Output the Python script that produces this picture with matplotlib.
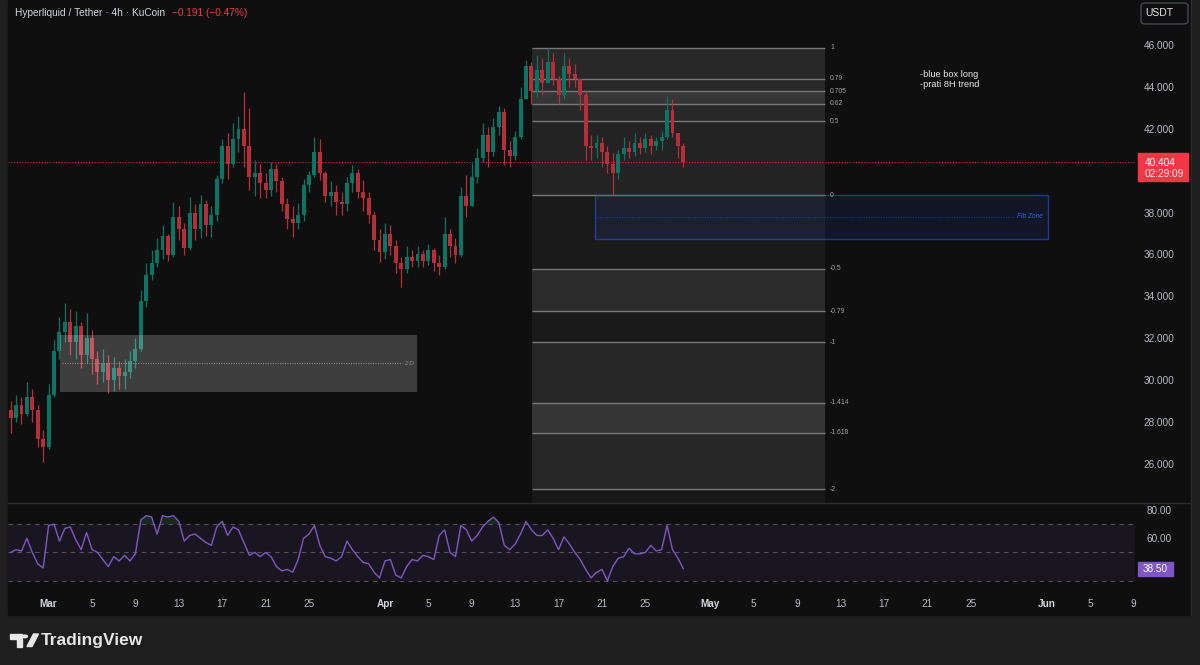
import numpy as np
import pandas as pd
import matplotlib
matplotlib.use('Agg')
import matplotlib.pyplot as plt
from matplotlib.patches import Rectangle, FancyBboxPatch, Polygon, Circle
from matplotlib.lines import Line2D

plt.rcParams['font.family'] = ['Liberation Sans', 'DejaVu Sans']

# ---------------- data ----------------
bar_start = '2025-02-25 12:00'
bar_end = '2025-04-28 12:00'
bar_freq = '12h'
first_open = 28.6
close = [28.2, 28.8, 28.4, 29.2, 28.6, 27.2, 26.8, 29.3, 31.4, 32.3,
         32.8, 31.8, 32.6, 31.2, 32.0, 31.0, 30.4, 30.8, 30.0, 30.6,
         30.2, 30.4, 30.9, 31.5, 33.8, 35.0, 35.6, 36.2, 36.9, 36.0,
         37.8, 37.2, 36.3, 38.0, 37.2, 38.4, 37.4, 37.9, 39.6, 41.2,
         40.3, 41.5, 42.0, 41.2, 39.7, 39.9, 39.4, 39.1, 40.1, 39.5,
         38.4, 37.7, 37.5, 37.9, 39.3, 39.8, 40.9, 39.9, 38.8, 39.0,
         38.5, 38.4, 39.4, 39.9, 39.0, 38.7, 37.9, 36.7, 36.1, 37.0,
         36.4, 35.6, 35.3, 35.9, 35.7, 36.0, 35.7, 36.2, 35.6, 35.4,
         37.0, 36.4, 36.0, 38.8, 38.3, 39.7, 40.6, 41.7, 40.9, 42.1,
         42.8, 41.0, 40.7, 41.6, 43.4, 45.0, 43.8, 44.8, 44.2, 45.2,
         44.4, 43.6, 45.0, 44.6, 44.4, 43.6, 41.2, 41.1, 41.3, 40.9,
         40.3, 39.9, 40.8, 41.1, 40.9, 41.3, 41.1, 41.5, 41.2, 41.4,
         41.6, 42.9, 41.8, 41.2, 40.404]
high = [29.0, 29.3, 29.2, 29.9, 29.6, 28.8, 27.6, 29.8, 31.9, 33.0,
        33.7, 33.4, 33.3, 32.8, 33.2, 32.4, 31.4, 31.5, 31.2, 31.1,
        30.9, 31.0, 31.4, 32.0, 34.3, 35.6, 36.2, 36.8, 37.4, 37.0,
        38.5, 38.3, 37.5, 38.75, 38.4, 38.84, 38.6, 38.3, 39.8, 41.5,
        41.8, 42.3, 42.6, 43.76, 43.0, 40.5, 40.3, 39.9, 40.4, 40.3,
        39.7, 38.7, 38.3, 38.45, 39.6, 40.0, 41.6, 41.5, 40.0, 39.5,
        39.3, 39.0, 39.7, 40.27, 40.1, 39.55, 39.0, 38.1, 37.2, 37.5,
        37.4, 36.7, 35.9, 36.4, 36.2, 36.4, 36.2, 36.5, 36.3, 36.0,
        37.8, 37.2, 36.8, 39.2, 39.8, 40.35, 41.1, 42.3, 42.1, 42.5,
        43.1, 43.0, 41.4, 41.9, 44.0, 45.3, 45.2, 45.5, 45.4, 45.86,
        45.6, 44.5, 45.6, 45.4, 45.1, 44.4, 43.85, 41.7, 41.7, 41.6,
        41.2, 40.85, 41.0, 41.6, 41.4, 41.8, 41.6, 41.8, 41.7, 41.6,
        41.9, 43.56, 43.4, 41.8, 41.3]
low = [27.5, 28.0, 27.9, 28.3, 28.0, 26.8, 26.1, 26.7, 29.2, 31.0,
       31.8, 31.2, 31.0, 30.6, 30.8, 30.3, 29.8, 29.9, 29.4, 29.5,
       29.6, 29.6, 30.1, 30.6, 31.4, 33.5, 34.8, 35.4, 35.8, 35.7,
       35.9, 36.7, 36.0, 36.2, 36.7, 36.8, 36.9, 36.85, 37.6, 39.4,
       39.6, 40.2, 40.9, 40.2, 39.1, 38.8, 38.7, 38.7, 38.8, 39.0,
       38.1, 37.2, 36.85, 37.2, 37.6, 39.0, 39.7, 39.55, 38.5, 38.3,
       37.9, 37.9, 38.1, 39.0, 38.7, 38.1, 37.5, 36.2, 35.64, 35.8,
       36.0, 35.1, 34.45, 35.1, 35.4, 35.4, 35.4, 35.5, 35.2, 35.0,
       35.3, 35.9, 35.6, 35.9, 37.8, 38.3, 39.4, 40.4, 40.2, 40.7,
       41.7, 40.27, 40.2, 40.5, 41.5, 43.4, 43.2, 43.5, 43.6, 44.2,
       44.1, 43.2, 43.4, 44.0, 44.0, 42.9, 40.5, 40.5, 40.6, 40.2,
       39.9, 38.84, 39.6, 40.5, 40.6, 40.7, 40.8, 40.9, 40.8, 41.0,
       41.0, 41.5, 41.6, 40.6, 40.2]
rsi = [50, 52, 51, 60, 50, 42, 39, 69, 70, 58,
       67, 68, 59, 52, 64, 52, 50, 45, 40, 47,
       44, 48, 44, 49, 73, 76, 75, 63, 76, 75,
       76, 72, 58, 62, 63, 60, 57, 55, 68, 72,
       62, 68, 66, 57, 48, 50, 47, 50, 47, 40,
       37, 38, 36, 45, 60, 63, 69, 55, 47, 46,
       44, 47, 58, 52, 47, 43, 42, 36, 32, 44,
       45, 34, 32, 40, 45, 44, 48, 47, 45, 62,
       66, 50, 47, 69, 66, 58, 62, 68, 72, 75,
       71, 55, 52, 56, 63, 72, 66, 62, 62, 66,
       60, 52, 61, 56, 50, 45, 38, 32, 36, 38,
       30, 40, 46, 47, 53, 49, 49, 50, 55, 51,
       52, 69, 52, 46, 38.5]
last_price = 40.404
last_rsi = 38.50
countdown = '02:29:09'

price_ticks = [26, 28, 30, 32, 34, 36, 38, 42, 44, 46]
rsi_ticks = [60, 80]
date_ticks = ['2025-03-01', '2025-03-05', '2025-03-09', '2025-03-13', '2025-03-17',
              '2025-03-21', '2025-03-25', '2025-04-01', '2025-04-05', '2025-04-09',
              '2025-04-13', '2025-04-17', '2025-04-21', '2025-04-25', '2025-05-01',
              '2025-05-05', '2025-05-09', '2025-05-13', '2025-05-17', '2025-05-21',
              '2025-05-25', '2025-06-01', '2025-06-05', '2025-06-09']
date_labels = ['Mar', '5', '9', '13', '17', '21', '25', 'Apr', '5', '9', '13', '17',
               '21', '25', 'May', '5', '9', '13', '17', '21', '25', 'Jun', '5', '9']
month_labels = {'Mar', 'Apr', 'May', 'Jun'}
notes = ['-blue box long', '-prati 8H trend']

# drawings
fib_start, fib_end = '2025-04-14 13:10', '2025-05-11 13:30'
fib_price_1, fib_price_0 = 45.86, 38.84
fib_levels = [1, 0.79, 0.705, 0.62, 0.5, 0, -0.5, -0.79, -1, -1.414, -1.618, -2]
fib_band_colors = ['#282828', '#282828', '#363636', '#282828', '#232323',
                   '#1a1a1a', '#2b2b2b', '#1a1a1a', '#262626', '#363636', '#272727']
blue_start, blue_end = '2025-04-20 08:40', '2025-06-01 02:40'
blue_top, blue_bottom, blue_mid = 38.84, 36.74, 37.79
gray_start, gray_end = '2025-03-02 01:10', '2025-04-03 22:50'
gray_top, gray_bottom, gray_mid = 32.16, 29.44, 30.82

# ---------------- layout ----------------
W, H = 1200, 665
X_MAR1, PX_DAY = 48.6, 10.85
Y46, PX_UNIT = 45.0, 20.95
Y80, PX_RSI = 510.0, 1.415

def fx(px): return px / W
def fy(py): return 1 - py / H
REF = pd.Timestamp('2025-03-01')
def to_t(s):
    return (pd.to_datetime(s) - REF) / pd.Timedelta(days=1)

BG = '#0f0f0f'
FRAME = '#1e1e1e'
GREEN, RED = '#0b7565', '#b52e3a'
TXT = '#b8bbc3'

fig = plt.figure(figsize=(12, 6.65), dpi=100, facecolor=FRAME)
fig.patches.append(Rectangle((fx(8), fy(615)), fx(1191) - fx(8), fy(0) - fy(615),
                             transform=fig.transFigure, color=BG, zorder=-10))

xl = ((8 - X_MAR1) / PX_DAY, (1135 - X_MAR1) / PX_DAY)
ax = fig.add_axes([fx(8), fy(503), fx(1135) - fx(8), fy(0) - fy(503)])
ax.set_facecolor('none')
ax.set_xlim(*xl)
ymin_p = 46 - (503 - Y46) / PX_UNIT
ax.set_ylim(ymin_p, 46 + Y46 / PX_UNIT)
for s in ax.spines.values():
    s.set_visible(False)

dates = pd.date_range(bar_start, bar_end, freq=bar_freq)
t = np.asarray(to_t(dates), dtype=float)
c = np.array(close); h = np.array(high); l = np.array(low)
o = np.array([first_open] + close[:-1])
cols = [GREEN if cc >= oo else RED for cc, oo in zip(c, o)]

# fib tool
ft0, ft1 = to_t(fib_start), to_t(fib_end)
ax.fill_between([ft0, ft1], ymin_p, fib_price_1, color='#181818', lw=0, zorder=0.5)
fib_prices = [fib_price_0 + lv * (fib_price_1 - fib_price_0) for lv in fib_levels]
for i in range(len(fib_levels) - 1):
    ax.fill_between([ft0, ft1], fib_prices[i + 1], fib_prices[i],
                    color=fib_band_colors[i], lw=0, zorder=0.6)
ax.hlines(fib_prices, ft0, ft1, colors='#787878', lw=1.0, zorder=0.7)
for lv, p in zip(fib_levels, fib_prices):
    ax.text(ft1 + 5 / PX_DAY, p, f'{lv:g}', color='#a0a0a0', fontsize=4.9,
            va='center', ha='left', zorder=6)

# current price line
ax.axhline(last_price, color='#f23645', lw=0.8, ls=(0, (1, 1.5)), alpha=0.75, zorder=2)

# candles
ax.vlines(t, l, h, colors=cols, lw=0.9, zorder=3)
ax.bar(t, np.maximum(np.abs(c - o), 0.04), bottom=np.minimum(o, c), width=0.36,
       color=cols, lw=0, zorder=3)

# gray box
gt0, gt1 = to_t(gray_start), to_t(gray_end)
ax.add_patch(Rectangle((gt0, gray_bottom), gt1 - gt0, gray_top - gray_bottom,
                       facecolor=(1, 1, 1, 0.2), edgecolor='none', zorder=5))
ax.hlines(gray_mid, gt0 + 0.2, gt1 - 1.4, colors='#8c8c8c', lw=0.8,
          linestyles=(0, (1, 1.2)), zorder=5)
ax.text(gt1 - 0.25, gray_mid, '2 D', color='#8c8c8c', fontsize=4.6, style='italic',
        ha='right', va='center', zorder=6)

# blue box
bt0, bt1 = to_t(blue_start), to_t(blue_end)
blue = (41 / 255, 98 / 255, 1.0)
ax.add_patch(Rectangle((bt0, blue_bottom), bt1 - bt0, blue_top - blue_bottom,
                       facecolor=blue + (0.1,), edgecolor=blue + (0.5,), lw=1, zorder=5))
ax.hlines(blue_mid, bt0 + 0.2, bt1 - 3.1, colors=[blue + (0.45,)], lw=0.8,
          linestyles=(0, (1, 1.2)), zorder=5)
ax.text(bt1 - 0.45, blue_mid, 'Fib Zone', color='#2962ff', fontsize=4.8, style='italic',
        ha='right', va='center', zorder=6)

ax.set_xticks([])
ax.yaxis.tick_right()
ax.set_yticks(price_ticks)
ax.set_yticklabels([f'{v:.3f}' for v in price_ticks])
ax.tick_params(axis='y', length=0, pad=17.3, colors=TXT, labelsize=7.2)
for lab in ax.get_yticklabels():
    lab.set_ha('center')

# ---------------- RSI pane ----------------
rax = fig.add_axes([fx(8), fy(592), fx(1135) - fx(8), fy(503) - fy(592)])
rax.set_facecolor('none')
rax.set_xlim(*xl)
rax.set_ylim(80 - (592 - Y80) / PX_RSI, 80 + (Y80 - 503) / PX_RSI)
for s in rax.spines.values():
    s.set_visible(False)
rax.axhspan(30, 70, color=(126 / 255, 87 / 255, 194 / 255, 0.1), lw=0, zorder=0.5)
for lvl in (70, 50, 30):
    rax.axhline(lvl, color='#787b86', lw=0.8, ls=(0, (4, 4)), alpha=0.6, zorder=1)
r = np.array(rsi, dtype=float)
rax.fill_between(t, r, 70, where=r >= 70, interpolate=True,
                 color=(0.3, 0.75, 0.45, 0.15), lw=0, zorder=1.5)
rax.fill_between(t, r, 30, where=r <= 30, interpolate=True,
                 color=(0.9, 0.3, 0.3, 0.15), lw=0, zorder=1.5)
rax.plot(t, r, color='#7e57c2', lw=1.0, zorder=3)
rax.yaxis.tick_right()
rax.set_yticks(rsi_ticks)
rax.set_yticklabels([f'{v:.2f}' for v in rsi_ticks])
rax.tick_params(axis='y', length=0, pad=17.3, colors=TXT, labelsize=7.2)
for lab in rax.get_yticklabels():
    lab.set_ha('center')
rax.set_xticks(np.asarray(to_t(date_ticks), dtype=float))
rax.set_xticklabels(date_labels)
rax.tick_params(axis='x', length=0, pad=5, colors=TXT, labelsize=7.2)
for lab in rax.get_xticklabels():
    if lab.get_text() in month_labels:
        lab.set_fontweight('bold')
        lab.set_color('#d1d4dc')

# separators
fig.add_artist(Line2D([fx(8), fx(1191)], [fy(503), fy(503)], color='#2c2c2c', lw=1))
fig.add_artist(Line2D([fx(1191), fx(1191)], [fy(0), fy(615)], color='#2c2c2c', lw=1))

# ---------------- labels ----------------
fig.patches.append(Rectangle((fx(1138), fy(181)), fx(1188) - fx(1138), fy(153) - fy(181),
                             transform=fig.transFigure, color='#f23645', zorder=5))
fig.text(fx(1145), fy(163), f'{last_price:.3f}', color='white', fontsize=7.3, va='center', zorder=6)
fig.text(fx(1145), fy(174), countdown, color='#ffe6e8', fontsize=7.3, va='center', zorder=6)

fig.patches.append(Rectangle((fx(1138), fy(576)), fx(1173) - fx(1138), fy(562) - fy(576),
                             transform=fig.transFigure, color='#7e57c2', zorder=5))
fig.text(fx(1155.5), fy(569), f'{last_rsi:.2f}', color='white', fontsize=7.2,
         va='center', ha='center', zorder=6)

fig.patches.append(FancyBboxPatch((fx(1141), fy(24)), fx(1188) - fx(1141), fy(3) - fy(24),
                                  boxstyle='round,pad=0,rounding_size=0.004',
                                  transform=fig.transFigure, facecolor=BG,
                                  edgecolor='#434651', lw=1, zorder=5))
fig.text(fx(1159.5), fy(13.5), 'USDT', color='#e6e6e6', fontsize=7.5, va='center',
         ha='center', zorder=6)

fig.text(fx(15), fy(12.5), 'Hyperliquid / Tether · 4h · KuCoin', color='#d1d4dc',
         fontsize=7.3, va='center')
fig.text(fx(172), fy(12.5), '\u22120.191 (\u22120.47%)', color='#f23645',
         fontsize=7.3, va='center')
for k, line in enumerate(notes):
    fig.text(fx(920), fy(74.5 + 9.8 * k), line, color='#e6e6e6',
             fontsize=6.7, va='center')

# footer logo
logo_col = '#e6e6e6'
fig.patches.append(Polygon([(fx(10), fy(634)), (fx(21.5), fy(634)), (fx(21.5), fy(646.5)),
                            (fx(16.5), fy(646.5)), (fx(16.5), fy(638.8)), (fx(10), fy(638.8))],
                           closed=True, transform=fig.transFigure, color=logo_col))
fig.patches.append(Circle((fx(25), fy(636.4)), 2.4 / W, transform=fig.transFigure,
                          color=logo_col))
fig.patches.append(Polygon([(fx(27), fy(646.5)), (fx(32), fy(646.5)), (fx(38.5), fy(634)),
                            (fx(33.5), fy(634))], closed=True, transform=fig.transFigure,
                           color=logo_col))
fig.text(fx(41), fy(640.5), 'TradingView', color=logo_col, fontsize=12.5,
         fontweight='bold', va='center')

fig.savefig('out.png', dpi=100, facecolor=FRAME)
